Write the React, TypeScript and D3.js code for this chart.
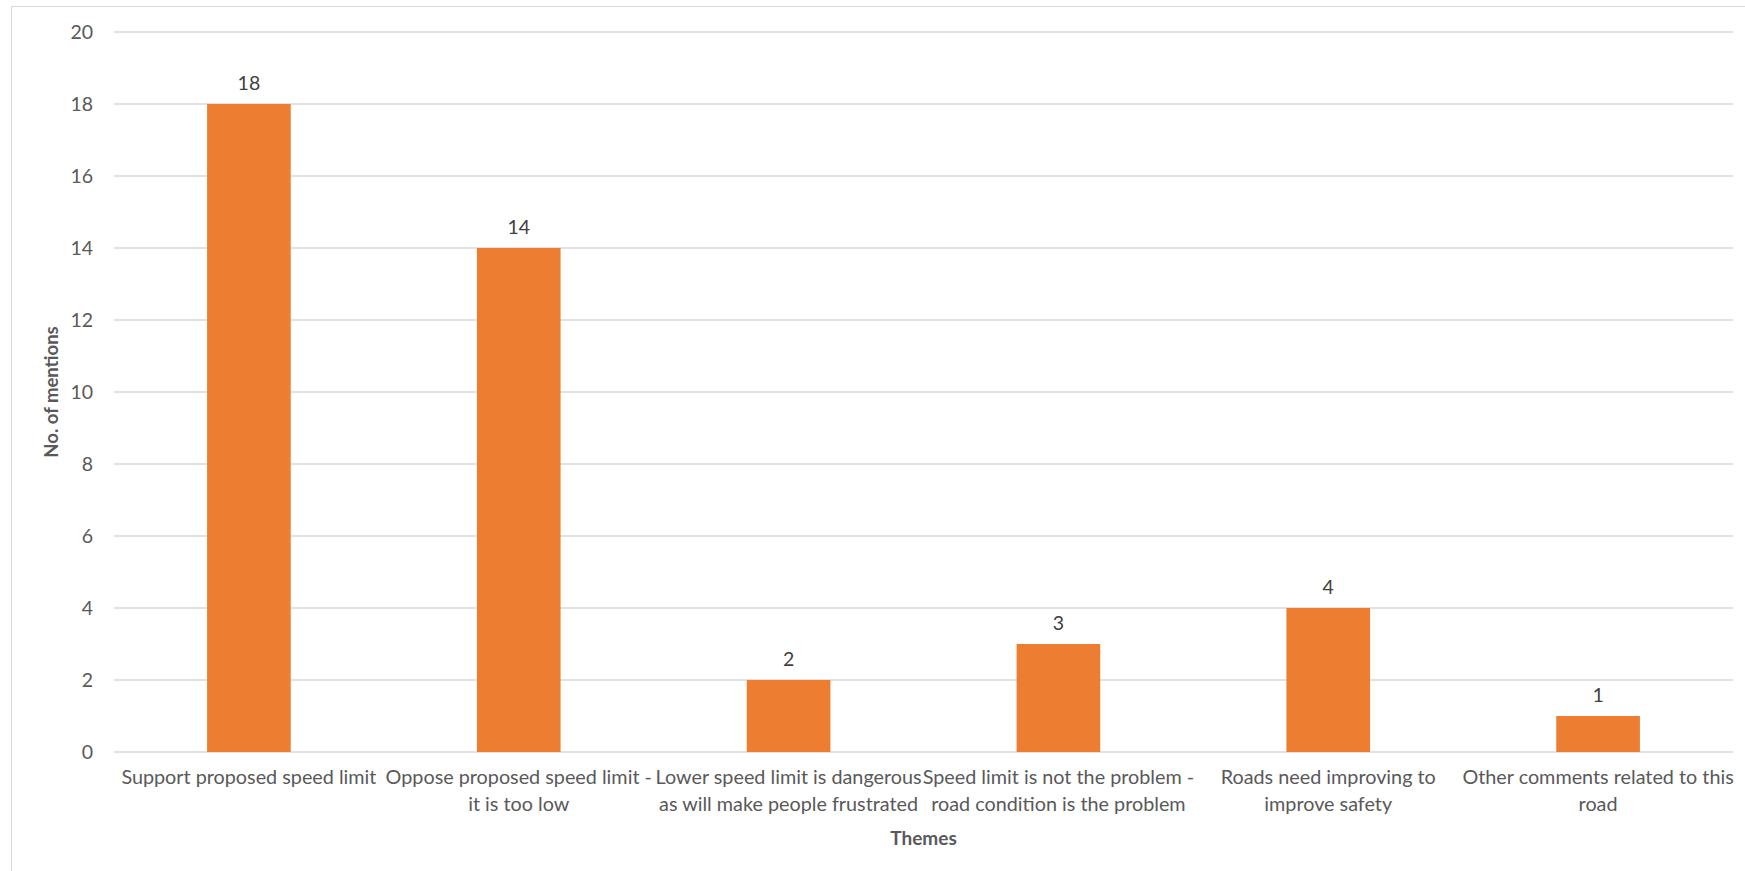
import React from "react";
import * as d3 from "d3";

const categories: string[][] = [
  ["Support proposed speed limit"],
  ["Oppose proposed speed limit -", "it is too low"],
  ["Lower speed limit is dangerous", "as will make people frustrated"],
  ["Speed limit is not the problem -", "road condition is the problem"],
  ["Roads need improving to", "improve safety"],
  ["Other comments related to this", "road"],
];
const mentions: number[] = [18, 14, 2, 3, 4, 1];
const yTicks: number[] = [0, 2, 4, 6, 8, 10, 12, 14, 16, 18, 20];
const xTitle = "Themes";
const yTitle = "No. of mentions";

const W = 1745;
const H = 871;
const left = 114;
const right = 1733;
const top = 32;
const bottom = 752;
const FONT = "Lato, 'Open Sans', sans-serif";

export default function App() {
  const x = d3
    .scaleBand<number>()
    .domain(d3.range(categories.length))
    .range([left, right])
    .paddingInner(0.69)
    .paddingOuter(0.345);
  const y = d3.scaleLinear().domain([0, 20]).range([bottom, top]);
  const band = (right - left) / categories.length;

  return (
    <svg
      width={W}
      height={H}
      style={{ position: "absolute", left: 0, top: 0, background: "#fff" }}
      fontFamily={FONT}
    >
      <rect x={0} y={0} width={W} height={H} fill="#fff" />
      <rect x={11.5} y={6.5} width={W} height={H + 20} fill="none" stroke="#D9D9D9" strokeWidth={1} />
      {yTicks.map((t) => (
        <g key={t}>
          <line x1={left} x2={right} y1={y(t)} y2={y(t)} stroke="#D9D9D9" strokeWidth={1.3} />
          <text x={93} y={y(t)} dy="0.35em" textAnchor="end" fontSize={19.5} fill="#595959">
            {t}
          </text>
        </g>
      ))}
      {mentions.map((v, i) => (
        <g key={i}>
          <rect x={x(i)} y={y(v)} width={x.bandwidth()} height={y(0) - y(v)} fill="#ED7D31" />
          <text
            x={(x(i) as number) + x.bandwidth() / 2}
            y={y(v) - 14}
            textAnchor="middle"
            fontSize={19.5}
            fill="#404040"
          >
            {v}
          </text>
        </g>
      ))}
      {categories.map((lines, i) => {
        const cx = left + band * i + band / 2;
        return (
          <text key={i} x={cx} textAnchor="middle" fontSize={19.8} fill="#595959">
            {lines.map((l, j) => (
              <tspan key={j} x={cx} y={784 + j * 27}>
                {l}
              </tspan>
            ))}
          </text>
        );
      })}
      <text x={(left + right) / 2} y={845} textAnchor="middle" fontSize={19} fontWeight="bold" fill="#595959">
        {xTitle}
      </text>
      <text
        transform={`translate(58, ${(top + bottom) / 2}) rotate(-90)`}
        textAnchor="middle"
        fontSize={18.5}
        fontWeight="bold"
        fill="#595959"
      >
        {yTitle}
      </text>
    </svg>
  );
}
